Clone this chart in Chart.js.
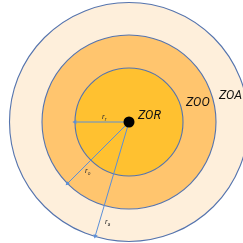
<!DOCTYPE html>
<html>
<head>
<meta charset="utf-8">
<script src="https://cdn.jsdelivr.net/npm/chart.js@4/dist/chart.umd.min.js"></script>
<style>
  html, body { margin: 0; padding: 0; background: #fff; }
  #wrap { width: 243px; height: 243px; }
</style>
</head>
<body>
<div id="wrap"><canvas id="chart"></canvas></div>
<script>
// zones, drawn from the outside in
const zoneNames = ['ZOA', 'ZOO', 'ZOR']
const zoneRadii = [119.5, 87, 54]
const zoneColors = ['#FEEFDB', '#FFC56E', '#FFC130']

// radius arrows: name, length, direction (degrees, counter-clockwise from +x)
const arrowNames = ['r', 'r', 'r']
const arrowSubs = ['r', 'o', 'a']
const arrowLengths = [54, 87, 119]
const arrowAngles = [180, 225, 253.5]

// where the texts sit (data units, centre of the circles is 0,0)
const zoneLabelPos = [[90, 26], [57, 19], [9, 6]]
const arrowLabelPos = [[-27, 5], [-44, -49], [-24, -100]]

const borderColor = '#5574AE'
const arrowColor = '#5B8FD8'

const px = (chart, r) => chart.scales.x.getPixelForValue(r) - chart.scales.x.getPixelForValue(0)

const rad = a => a * Math.PI / 180
const arrowSets = arrowLengths.map((len, i) => ({
  type: 'line',
  data: [{x: 0, y: 0}, {x: len * Math.cos(rad(arrowAngles[i])), y: len * Math.sin(rad(arrowAngles[i]))}],
  borderColor: arrowColor,
  backgroundColor: arrowColor,
  borderWidth: 1,
  pointRadius: [0, 2.6],
  pointStyle: 'triangle',
  pointRotation: [0, 90 - arrowAngles[i]],
  pointBorderWidth: 0,
  order: 1
}))

const labels = {
  id: 'labels',
  afterDatasetsDraw(chart) {
    const c = chart.ctx
    const sx = chart.scales.x, sy = chart.scales.y
    c.save()
    c.fillStyle = '#111'
    c.textBaseline = 'middle'
    c.textAlign = 'left'
    c.font = 'italic 12.5px Roboto'
    zoneNames.forEach((n, i) => {
      c.fillText(n, sx.getPixelForValue(zoneLabelPos[i][0]), sy.getPixelForValue(zoneLabelPos[i][1]))
    })
    arrowNames.forEach((n, i) => {
      const x = sx.getPixelForValue(arrowLabelPos[i][0])
      const y = sy.getPixelForValue(arrowLabelPos[i][1])
      c.font = 'italic 8px Roboto'
      c.fillStyle = '#333'
      c.fillText(n, x, y)
      const w = c.measureText(n).width
      c.font = 'italic 5px Roboto'
      c.fillText(arrowSubs[i], x + w, y + 2.5)
    })
    c.restore()
  }
}

new Chart(document.getElementById('chart'), {
  type: 'scatter',
  data: {
    datasets: [
      {
        data: zoneRadii.map(() => ({x: 0, y: 0})),
        backgroundColor: zoneColors,
        borderColor: borderColor,
        borderWidth: 1.1,
        pointRadius: ctx => px(ctx.chart, zoneRadii[ctx.dataIndex]),
        clip: false,
        order: 3
      },
      ...arrowSets,
      {
        data: [{x: 0, y: 0}],
        backgroundColor: '#000',
        borderWidth: 0,
        pointRadius: 5.5,
        order: 0
      }
    ]
  },
  options: {
    responsive: true,
    maintainAspectRatio: false,
    animation: false,
    layout: {padding: 0, autoPadding: false},
    plugins: {legend: {display: false}, tooltip: {enabled: false}},
    events: [],
    scales: {
      x: {type: 'linear', min: -129, max: 114, display: false},
      y: {type: 'linear', min: -121, max: 122, display: false}
    }
  },
  plugins: [labels]
})
</script>
</body>
</html>
